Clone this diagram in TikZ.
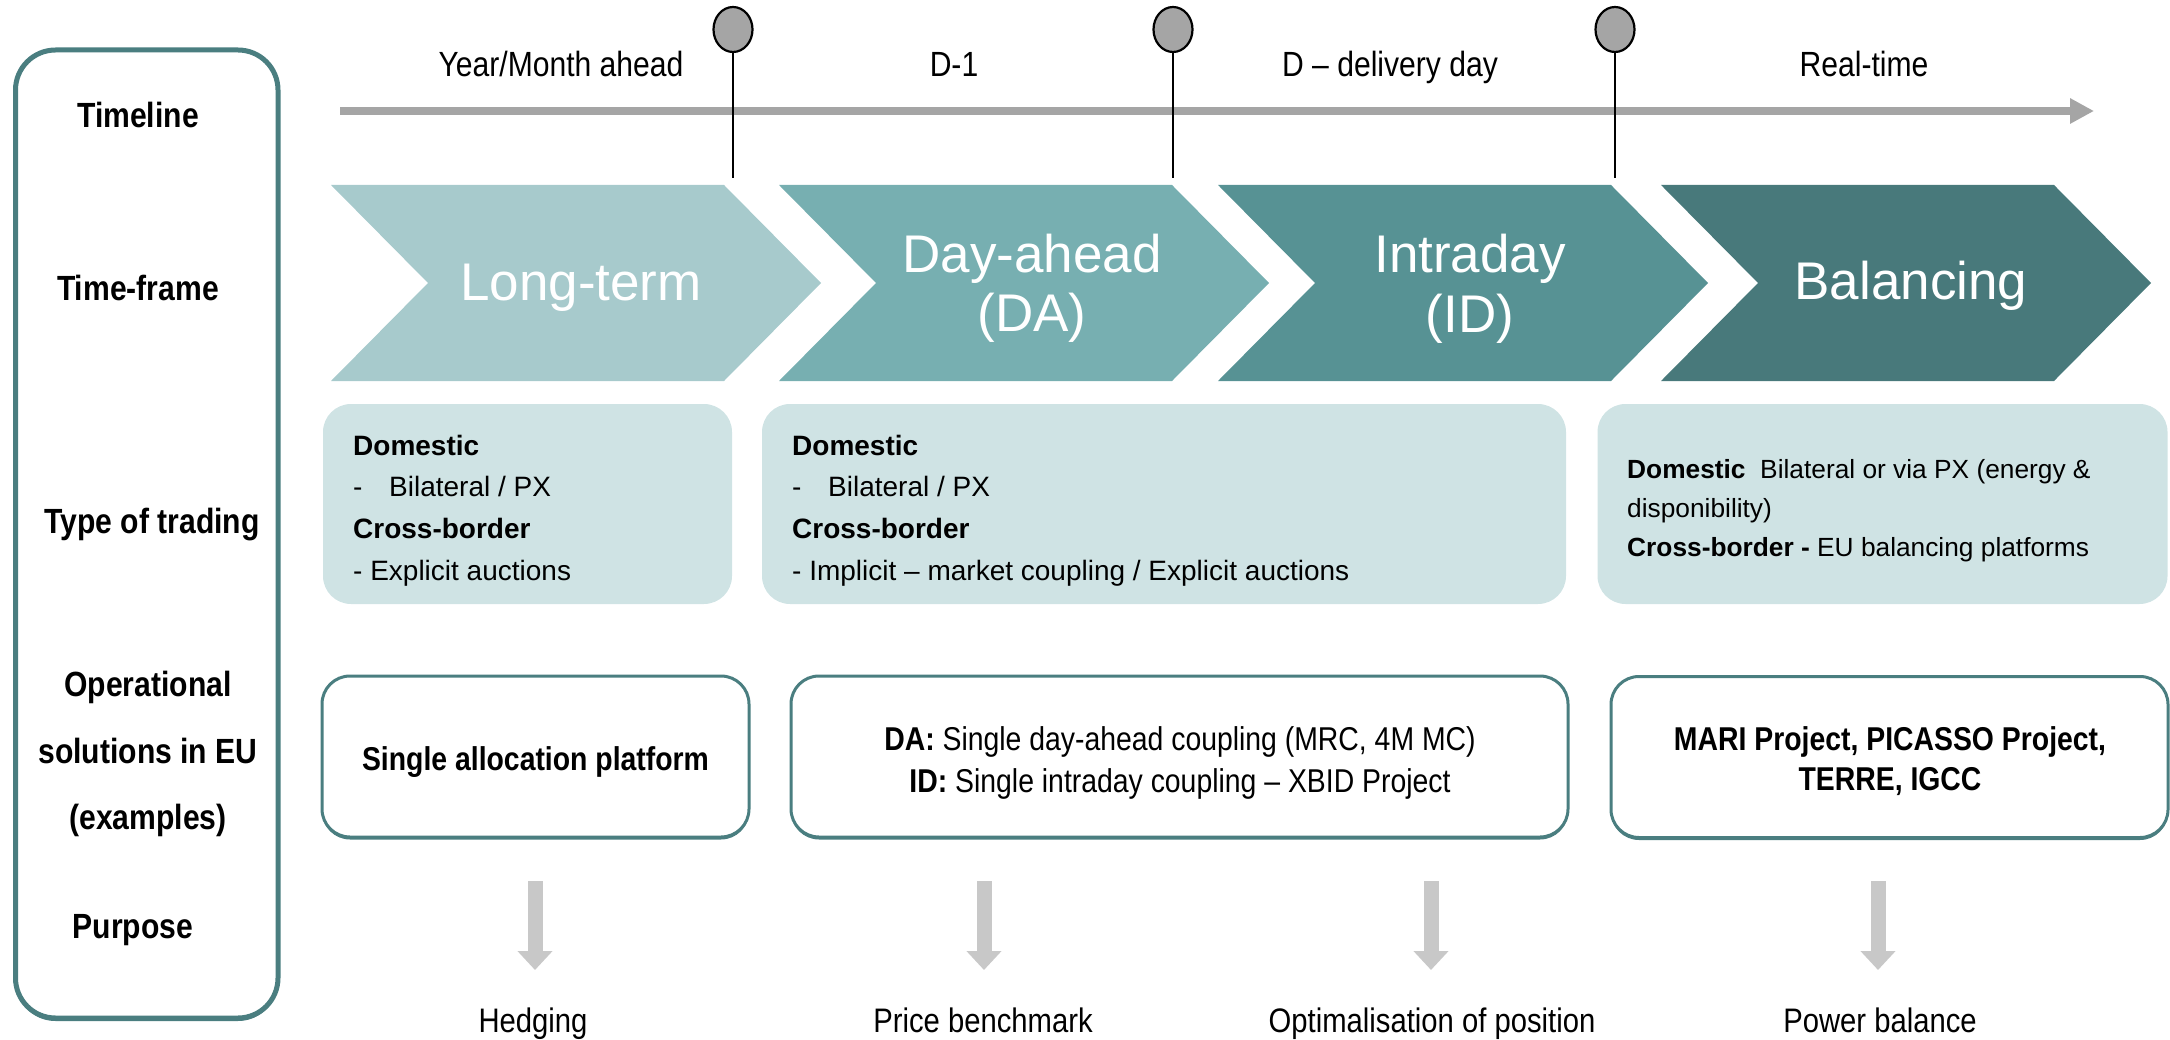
\documentclass[tikz,border=0pt]{standalone}
\usepackage{fontspec}
\setmainfont{Liberation Sans}
\newfontfamily\narrowfont{Liberation Sans}[FakeStretch=0.86]
\usetikzlibrary{arrows.meta,shapes.geometric,shadows}

\definecolor{teal1}{HTML}{A7CACC}
\definecolor{teal2}{HTML}{77AFB1}
\definecolor{teal3}{HTML}{579294}
\definecolor{teal4}{HTML}{48797B}
\definecolor{tradefill}{HTML}{CFE3E4}
\definecolor{frame}{HTML}{4A7E80}
\definecolor{lineGray}{HTML}{A5A5A5}
\definecolor{arrowGray}{HTML}{C8C8C8}

\begin{document}
\begin{tikzpicture}[x=1pt,y=-1pt,
  rowlabel/.style={font={\narrowfont\bfseries\fontsize{35}{42}\selectfont}, anchor=base, inner sep=0pt},
  timelabel/.style={font={\narrowfont\fontsize{35}{42}\selectfont}, anchor=base, inner sep=0pt},
  chevtext/.style={font={\fontsize{53}{60}\selectfont}, text=white, anchor=base, inner sep=0pt},
  tradebox/.style={fill=tradefill, rounded corners=28pt, inner sep=0pt, outer sep=0pt},
  tradetext/.style={font={\fontsize{28}{34}\selectfont}, anchor=base west, inner sep=0pt},
  tradetextsmall/.style={font={\fontsize{26.3}{32}\selectfont}, anchor=base west, inner sep=0pt},
  opbox/.style={draw=frame, line width=3pt, fill=white, rounded corners=28pt, inner sep=0pt,
    general shadow={fill=frame, shadow yshift=-2.5pt}},
  optext/.style={font={\narrowfont\fontsize{33}{40}\selectfont}, anchor=base, inner sep=0pt},
  purpose/.style={font={\narrowfont\fontsize{34}{40}\selectfont}, anchor=base, inner sep=0pt},
  pinhead/.style={ellipse, draw=black, line width=2.2pt, fill=lineGray, minimum width=39pt, minimum height=45pt, inner sep=0pt},
  pinline/.style={draw=black, line width=2pt},
  downarrow/.style={draw=arrowGray, line width=15pt, -{Triangle[width=34pt,length=19pt]}},
]
\useasboundingbox (0,0) rectangle (2170,1040);

% row-title panel on the left
\node[draw=frame, line width=5pt, fill=white, rounded corners=40pt, minimum width=262.5pt, minimum height=968pt,
      general shadow={fill=frame, shadow yshift=-3pt}] (panel) at (146.75,534) {};
\node[rowlabel] (lTimeline) at (138,128) {Timeline};
\node[rowlabel] (lFrame) at (138,301) {Time-frame};
\node[rowlabel] (lType) at (152,533) {Type of trading};
\node[rowlabel] (lOp1) at (148,696) {Operational};
\node[rowlabel] (lOp2) at (148,763) {solutions in EU};
\node[rowlabel] (lOp3) at (148,829) {(examples)};
\node[rowlabel] (lPurpose) at (133,938) {Purpose};

% timeline arrow
\coordinate (tlStart) at (340,111);
\coordinate (tlEnd) at (2094,111);
\draw[draw=lineGray, line width=8pt, -{Triangle[width=24pt,length=24pt]}] (tlStart) -- (tlEnd);

\node[timelabel] (tYear) at (561,77) {Year/Month ahead};
\node[timelabel] (tD1) at (954,77) {D-1};
\node[timelabel] (tD) at (1390,77) {D – delivery day};
\node[timelabel] (tRT) at (1864,77) {Real-time};

% chevrons for the time-frames
\foreach \x/\c in {331/teal1, 779/teal2, 1218/teal3, 1661/teal4}
  \fill[\c] (\x,185) -- (\x+393,185) -- (\x+490,283) -- (\x+393,381) -- (\x,381) -- (\x+97,283) -- cycle;

\node[chevtext] (cLT) at (581,301) {Long-term};
\node[chevtext] (cDA1) at (1032,273) {Day-ahead};
\node[chevtext] (cDA2) at (1032,332) {(DA)};
\node[chevtext] (cID1) at (1470,273) {Intraday};
\node[chevtext] (cID2) at (1470,333) {(ID)};
\node[chevtext] (cBal) at (1911,300) {Balancing};

% pins marking the gate times
\foreach \n/\x in {1/733, 2/1173, 3/1615} {
  \node[pinhead] (pin\n) at (\x,29.5) {};
  \coordinate (pinfoot\n) at (\x,178);
  \draw[pinline] (pin\n.south) -- (pinfoot\n);
}

% type of trading
\node[tradebox, minimum width=409pt, minimum height=200pt] (tb1) at (527.5,504) {};
\node[tradebox, minimum width=804pt, minimum height=200pt] (tb2) at (1164,504) {};
\node[tradebox, minimum width=570pt, minimum height=200pt] (tb3) at (1882.5,504) {};

\node[tradetext] (t1a) at (353,455.7) {\textbf{Domestic}};
\node[tradetext] (t1b) at (353,496) {\makebox[36pt][l]{-}Bilateral / PX};
\node[tradetext] (t1c) at (353,538) {\textbf{Cross-border}};
\node[tradetext] (t1d) at (353,580) {- Explicit auctions};

\node[tradetext] (t2a) at (792,455.7) {\textbf{Domestic}};
\node[tradetext] (t2b) at (792,496) {\makebox[36pt][l]{-}Bilateral / PX};
\node[tradetext] (t2c) at (792,538) {\textbf{Cross-border}};
\node[tradetext] (t2d) at (792,580) {- Implicit – market coupling / Explicit auctions};

\node[tradetextsmall] (t3a) at (1627,478) {\textbf{Domestic}\ \ Bilateral or via PX (energy \&};
\node[tradetextsmall] (t3b) at (1627,517) {disponibility)};
\node[tradetextsmall] (t3c) at (1627,556) {\textbf{Cross-border -} EU balancing platforms};

% operational solutions
\node[opbox, minimum width=427pt, minimum height=161pt] (ob1) at (535.5,756.5) {};
\node[opbox, minimum width=777pt, minimum height=161pt] (ob2) at (1179.5,756.5) {};
\node[opbox, minimum width=557pt, minimum height=161pt] (ob3) at (1889.5,757) {};

\node[optext] (o1) at (535.5,770) {\textbf{Single allocation platform}};
\node[optext] (o2a) at (1180,750) {\textbf{DA:} Single day-ahead coupling (MRC, 4M MC)};
\node[optext] (o2b) at (1180,792) {\textbf{ID:} Single intraday coupling – XBID Project};
\node[optext] (o3a) at (1890,750) {\textbf{MARI Project, PICASSO Project,}};
\node[optext] (o3b) at (1890,790) {\textbf{TERRE, IGCC}};

% purpose arrows and labels
\foreach \n/\x in {1/535, 2/984, 3/1431, 4/1878} {
  \coordinate (as\n) at (\x,881);
  \coordinate (ae\n) at (\x,970);
  \draw[downarrow] (as\n) -- (ae\n);
}
\node[purpose] (p1) at (533,1032) {Hedging};
\node[purpose] (p2) at (983,1032) {Price benchmark};
\node[purpose] (p3) at (1432,1032) {Optimalisation of position};
\node[purpose] (p4) at (1880,1032) {Power balance};
\end{tikzpicture}
\end{document}
